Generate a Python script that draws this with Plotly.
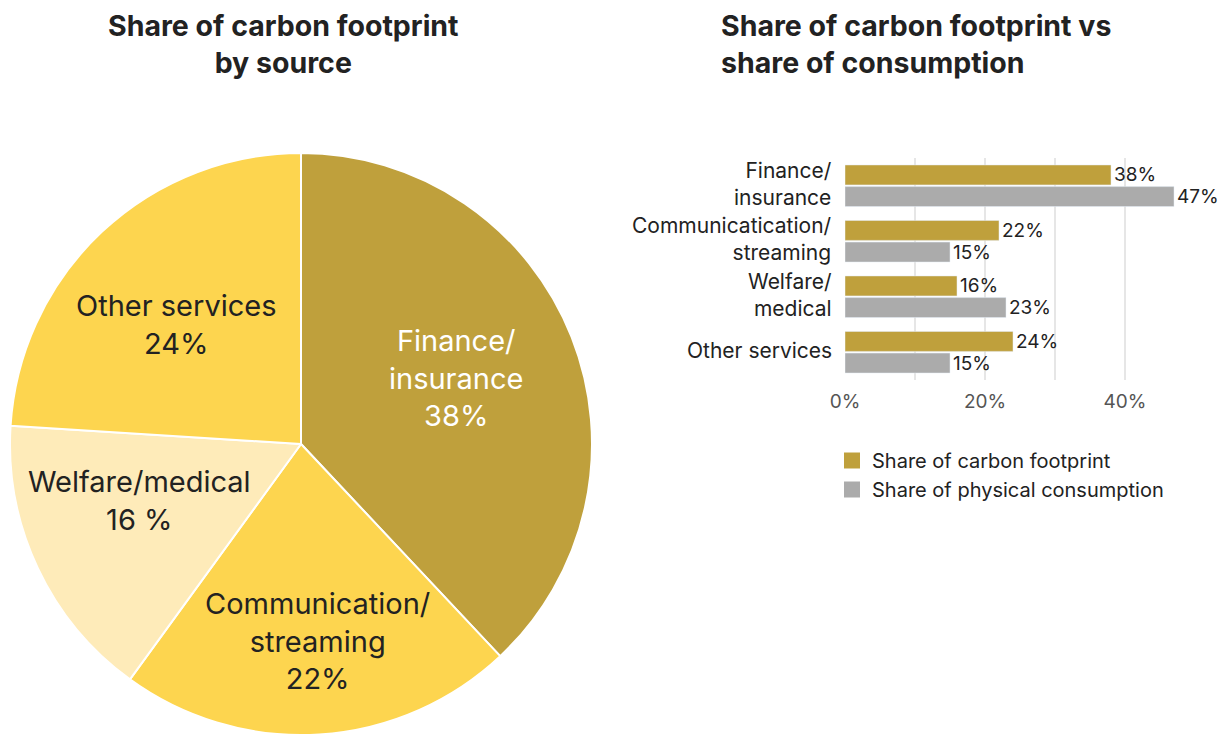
import math
import plotly.graph_objects as go

# Pie: share of carbon footprint by source
pie_labels = ["Finance/<br>insurance", "Communication/<br>streaming",
              "Welfare/medical", "Other services"]
pie_values = [38, 22, 16, 24]
pie_pct_sep = ["", "", " ", ""]
pie_colors = ["#BFA03C", "#FDD54F", "#FEEBB9", "#FDD54F"]
pie_text_colors = ["#FFFFFF", "#222222", "#222222", "#222222"]

# Bars: carbon footprint vs physical consumption
bar_categories = ["Finance/<br>insurance", "Communicatication/<br>streaming",
                  "Welfare/<br>medical", "Other services"]
carbon_share = [38, 22, 16, 24]
consumption_share = [47, 15, 23, 15]
x_tick_values = [0, 20, 40]
x_tick_labels = ["0%", "20%", "40%"]

GOLD = "#BFA03C"
GREY = "#ABABAB"
FONT = "Inter, Roboto, sans-serif"
INK = "#222222"
W, H = 1219, 735

# pie geometry (pixels)
PIE_CX, PIE_R = 301, 291
PIE_CY = H - PIE_R
LABEL_R = 0.6
# per-label nudges (px, x right / y down)
label_nudge = [(-7, -2), (6, 23), (-4, -18), (-5, 8)]

fig = go.Figure()

fig.add_trace(go.Pie(
    values=pie_values,
    labels=[l.replace("<br>", " ") for l in pie_labels],
    textinfo="none",
    marker=dict(colors=pie_colors, line=dict(color="#FFFFFF", width=2)),
    sort=False,
    direction="clockwise",
    rotation=0,
    showlegend=False,
    domain=dict(x=[(PIE_CX - PIE_R) / W, (PIE_CX + PIE_R) / W], y=[0.0, 2 * PIE_R / H]),
))

annotations = []

# pie labels placed along each slice's mid angle
total = sum(pie_values)
cum = 0
for lab, v, sep, col, (nx, ny) in zip(pie_labels, pie_values, pie_pct_sep, pie_text_colors, label_nudge):
    mid = (cum + v / 2) / total * 2 * math.pi
    cum += v
    px = PIE_CX + LABEL_R * PIE_R * math.sin(mid)
    py = PIE_CY - LABEL_R * PIE_R * math.cos(mid)
    annotations.append(dict(
        text=f"{lab}<br>{v}{sep}%", x=px / W, y=1 - py / H,
        xref="paper", yref="paper", xanchor="center", yanchor="middle",
        xshift=nx, yshift=-ny, showarrow=False, align="center",
        font=dict(family=FONT, size=29, color=col),
    ))

fig.add_trace(go.Bar(
    y=bar_categories, x=carbon_share, orientation="h",
    marker=dict(color=GOLD),
    text=[f"{v}%" for v in carbon_share], textposition="outside",
    textfont=dict(family=FONT, size=19, color=INK), constraintext="none",
    cliponaxis=False, showlegend=False,
))
fig.add_trace(go.Bar(
    y=bar_categories, x=consumption_share, orientation="h",
    marker=dict(color=GREY),
    text=[f"{v}%" for v in consumption_share], textposition="outside",
    textfont=dict(family=FONT, size=19, color=INK), constraintext="none",
    cliponaxis=False, showlegend=False,
))

# Legend swatches
fig.add_trace(go.Scatter(x=[None], y=[None], mode="markers", name="Share of carbon footprint",
                         marker=dict(symbol="square", size=18, color=GOLD)))
fig.add_trace(go.Scatter(x=[None], y=[None], mode="markers", name="Share of physical consumption",
                         marker=dict(symbol="square", size=18, color=GREY)))

# category labels, right-aligned against the axis
for cat in bar_categories:
    annotations.append(dict(
        text=cat, x=833 / W, y=cat, xref="paper", yref="y",
        xanchor="right", yanchor="middle", align="right", showarrow=False,
        borderpad=0, yshift=2,
        font=dict(family=FONT, size=21, color=INK),
    ))

annotations += [
    dict(text="<b>Share of carbon footprint<br>by source</b>", x=283 / W, y=1 - 6 / H,
         xref="paper", yref="paper", xanchor="center", yanchor="top", showarrow=False,
         align="center", font=dict(family=FONT, size=28.5, color=INK)),
    dict(text="<b>Share of carbon footprint vs<br>share of consumption</b>", x=719 / W, y=1 - 6 / H,
         xref="paper", yref="paper", xanchor="left", yanchor="top", showarrow=False,
         align="left", font=dict(family=FONT, size=28.5, color=INK)),
]

fig.update_layout(
    width=W, height=H,
    margin=dict(l=0, r=0, t=0, b=0, autoexpand=False),
    paper_bgcolor="#FFFFFF", plot_bgcolor="#FFFFFF",
    font=dict(family=FONT, color=INK),
    barmode="group", bargap=0.22, bargroupgap=0.08,
    xaxis=dict(
        domain=[845 / W, 1195 / W], range=[0, 50],
        tickmode="array", tickvals=x_tick_values, ticktext=x_tick_labels,
        tickfont=dict(family=FONT, size=19, color="#555555"),
        showgrid=False, zeroline=False, showline=False,
        ticks="outside", ticklen=4, tickcolor="rgba(0,0,0,0)", automargin=False,
    ),
    # grid every 10%
    xaxis2=dict(
        overlaying="x", matches="x", domain=[845 / W, 1195 / W], range=[0, 50],
        dtick=10, showgrid=True, gridcolor="#E6E6E6", gridwidth=2,
        showticklabels=False, zeroline=False, layer="below traces", anchor="y",
    ),
    yaxis=dict(
        domain=[(H - 380) / H, (H - 158) / H],
        autorange="reversed", anchor="x",
        showticklabels=False, showgrid=False, zeroline=False, showline=False,
        automargin=False,
    ),
    legend=dict(
        x=832 / W, y=(H - 441) / H, xanchor="left", yanchor="top",
        font=dict(family=FONT, size=20, color=INK),
        itemsizing="trace", tracegroupgap=0, bgcolor="rgba(0,0,0,0)",
    ),
    annotations=annotations,
)

# empty trace to draw the 10% gridlines on the overlay axis
fig.add_trace(go.Scatter(x=[None], y=[None], showlegend=False, xaxis="x2", yaxis="y"))

fig.write_html("out.html")
